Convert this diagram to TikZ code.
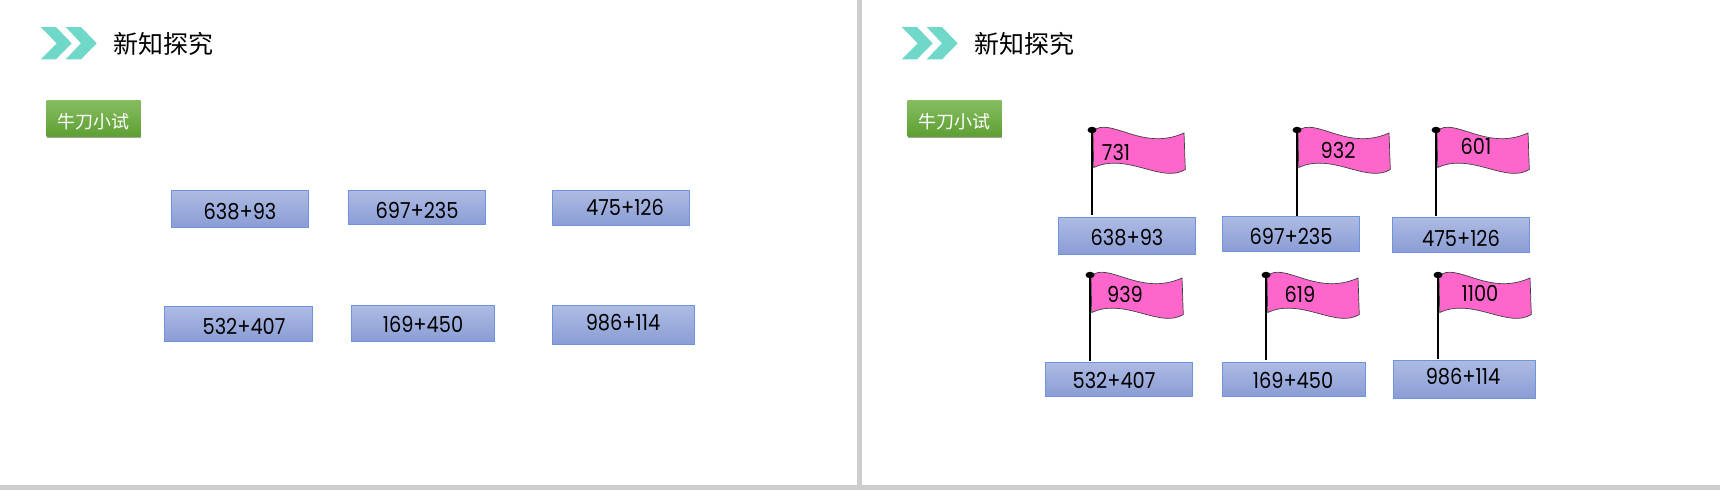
\documentclass[tikz,border=0pt]{standalone}
\usepackage{fontspec}
\setmainfont[FakeStretch=0.88]{Poppins}
\newfontfamily\cjk{Noto Sans CJK SC}
\usetikzlibrary{shadows,shapes.geometric}

\definecolor{barGray}{HTML}{CDCDCD}
\definecolor{chevTeal}{HTML}{6FD8C8}
\definecolor{flagPink}{HTML}{FF66CC}
\definecolor{boxTop}{HTML}{AEBBE3}
\definecolor{boxBottom}{HTML}{8A9DD5}
\definecolor{boxLine}{HTML}{6F94DC}
\definecolor{tagTop}{HTML}{86BD60}
\definecolor{tagBottom}{HTML}{5EA034}

\begin{document}
\begin{tikzpicture}[
    x=1pt, y=-1pt,
    title/.style={font=\cjk\fontsize{25}{25}\selectfont, text=black, inner sep=0pt},
    tag/.style={minimum width=94pt, minimum height=36pt, inner sep=0pt, top color=tagTop, bottom color=tagBottom,
        font=\cjk\fontsize{18}{18}\selectfont, text=white,
        drop shadow={shadow xshift=0.6pt, shadow yshift=-1.6pt, fill=black, opacity=0.35}},
    sumbox/.style={draw=boxLine, line width=0.9pt, top color=boxTop, bottom color=boxBottom, inner sep=0pt},
    sumtext/.style={font=\fontsize{22}{22}\selectfont, inner sep=0pt},
    flagtext/.style={font=\fontsize{22}{22}\selectfont, inner sep=0pt},
    poletop/.style={ellipse, fill=black, minimum width=9pt, minimum height=6.5pt, inner sep=0pt},
    pole/.style={line width=2.8pt},
    flag/.style={draw=black!75, line width=0.7pt, fill=flagPink},
  ]

\useasboundingbox (0,0) rectangle (1720,490);
\fill[white] (0,0) rectangle (1720,490);

% Divider and bottom bar
\fill[barGray] (857,0) rectangle (862,490);
\fill[barGray] (0,485) rectangle (1720,490);

% Header of each slide
\foreach \p/\dx in {a/0,b/861}{
  \begin{scope}[shift={(\dx,0)}]
    \fill[chevTeal] (40.7,27) -- (56,27) -- (71.7,43.3) -- (56,59.3) -- (40.7,59.3) -- (56.7,43.3) -- cycle;
    \fill[chevTeal] (65.7,27) -- (81,27) -- (96.7,43.3) -- (81,59.3) -- (65.7,59.3) -- (81,43.3) -- cycle;
    \node[title] (title\p) at (163.5,43.5) {新知探究};
    \node[tag] (tag\p) at (93.5,118) {\raisebox{-10pt}[0pt][0pt]{牛刀小试}};
  \end{scope}
}

% Sums on the left slide
\foreach \n/\x/\y/\w/\h/\tx/\ty/\s in {
    1/239.5/208.5/137/37/240/212/638+93,
    2/416.5/207.5/137/34.5/417/210.5/697+235,
    3/620.5/207.5/137/35/625/207/475+126,
    4/238/323.5/148/35/244/326/532+407,
    5/422.5/323/143/36/423/324/169+450,
    6/623/324.5/142/39/623/323/986+114}{
  \node[sumbox, minimum width=\w pt, minimum height=\h pt] (l\n) at (\x,\y) {};
  \node[sumtext] (lt\n) at (\tx,\ty) {\s};
}

% Sums on the right slide
\foreach \n/\x/\y/\w/\h/\tx/\ty/\s in {
    1/1126.5/235.5/137/37/1127/238/638+93,
    2/1290.5/233.5/137/35/1291/236.5/697+235,
    3/1460.5/234.5/137/35/1461/238/475+126,
    4/1118.5/379/147/34/1114/380/532+407,
    5/1293.5/379/143/34/1293/380/169+450,
    6/1464/379/142/38/1463/377/986+114}{
  \node[sumbox, minimum width=\w pt, minimum height=\h pt] (r\n) at (\x,\y) {};
  \node[sumtext] (rt\n) at (\tx,\ty) {\s};
}

% Flags
\foreach \n/\x/\y/\b/\tx/\ty/\v in {
    1/1092/130/215/1116/152/731,
    2/1297/130/216/1338/150/932,
    3/1436/130/216/1476/146/601,
    4/1090/275/361/1125/294/939,
    5/1266/275/360/1300/294/619,
    6/1438/275/359/1480/293/1100}{
  \filldraw[flag, shift={(\x,\y)}] (1,1) .. controls (18,-14) and (50,22) .. (92,3)
    .. controls (92.5,15) and (92.8,27) .. (93.3,39.5)
    .. controls (70,54) and (35,22) .. (1.7,37.5) -- cycle;
  \node[poletop] (top\n) at (\x,\y) {};
  \coordinate (foot\n) at (\x,\b);
  \draw[pole] (top\n.center) -- (foot\n);
  \node[flagtext] (val\n) at (\tx,\ty) {\v};
}

\end{tikzpicture}
\end{document}
